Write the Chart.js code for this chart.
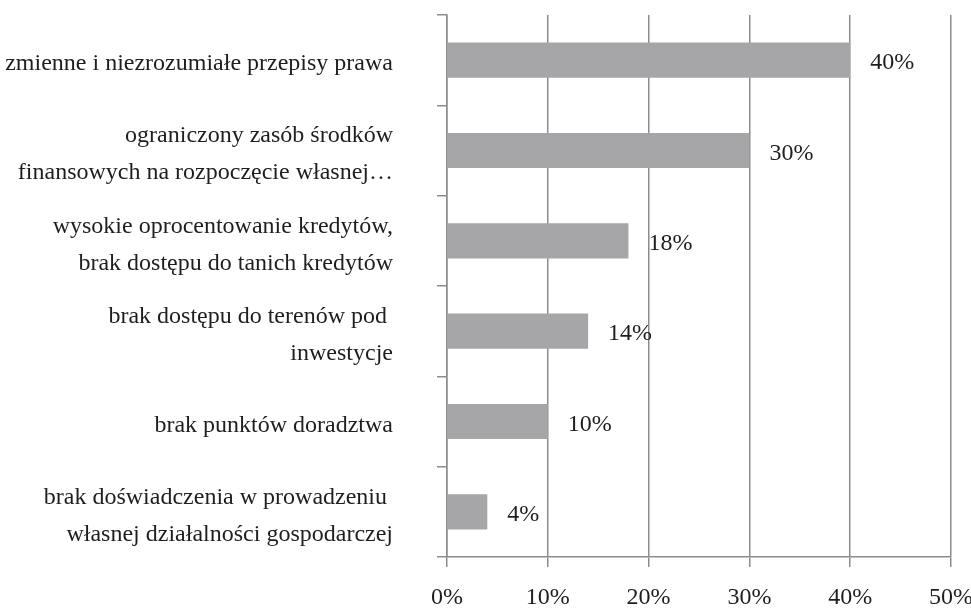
<!DOCTYPE html>
<html>
<head>
<meta charset="utf-8">
<script src="https://cdn.jsdelivr.net/npm/chart.js@4.4.0/dist/chart.umd.min.js"></script>
<style>
  html, body { margin: 0; padding: 0; background: #ffffff; }
  #wrap { width: 971px; height: 608px; position: relative; }
</style>
</head>
<body>
<div id="wrap"><canvas id="c" width="971" height="608"></canvas></div>
<script>
const categories = [
  "zmienne i niezrozumiałe przepisy prawa",
  ["ograniczony zasób środków", "finansowych na rozpoczęcie własnej…"],
  ["wysokie oprocentowanie kredytów,", "brak dostępu do tanich kredytów"],
  ["brak dostępu do terenów pod ", "inwestycje"],
  "brak punktów doradztwa",
  ["brak doświadczenia w prowadzeniu ", "własnej działalności gospodarczej"]
];
const values = [40, 30, 18, 14, 10, 4];
const xTicks = [0, 10, 20, 30, 40, 50];

const FONT = "'Liberation Serif', 'Times New Roman', serif";
const TEXT = "#1e1e1e";
const GRID = "#8c8c8c";
const FS = 24;

const valueLabels = {
  id: 'valueLabels',
  afterDatasetsDraw(chart) {
    const ctx = chart.ctx;
    const meta = chart.getDatasetMeta(0);
    ctx.save();
    ctx.font = FS + "px " + FONT;
    ctx.fillStyle = TEXT;
    ctx.textAlign = 'left';
    ctx.textBaseline = 'middle';
    meta.data.forEach((bar, i) => {
      ctx.fillText(values[i] + '%', bar.x + 20, bar.y + 3);
    });
    ctx.restore();
  }
};

function zeroPad(scale) {
  scale.paddingTop = 0; scale.paddingBottom = 0;
  scale.paddingLeft = 0; scale.paddingRight = 0;
}

new Chart(document.getElementById('c'), {
  type: 'bar',
  data: {
    labels: categories,
    datasets: [{
      data: values,
      backgroundColor: '#a6a6a8',
      borderWidth: 0,
      categoryPercentage: 1,
      barPercentage: 0.39
    }]
  },
  options: {
    indexAxis: 'y',
    responsive: false,
    animation: false,
    devicePixelRatio: 1,
    layout: { padding: { top: 15, right: 20, left: 0, bottom: 0 } },
    plugins: { legend: { display: false }, tooltip: { enabled: false } },
    scales: {
      x: {
        type: 'linear',
        min: 0,
        max: 50,
        afterBuildTicks(scale) { scale.ticks = xTicks.map(v => ({ value: v })); },
        afterFit(scale) { scale.height = 51; zeroPad(scale); },
        grid: { color: GRID, lineWidth: 1.5, tickLength: 10, drawTicks: true },
        border: { display: true, color: GRID, width: 1.5 },
        ticks: {
          padding: 16,
          color: TEXT,
          maxRotation: 0,
          font: { family: FONT, size: FS },
          callback: v => v + '%'
        }
      },
      y: {
        afterFit(scale) { scale.width = 447; zeroPad(scale); },
        grid: { color: GRID, lineWidth: 1.5, tickLength: 10, drawOnChartArea: false, offset: true },
        border: { display: true, color: GRID, width: 1.5 },
        ticks: {
          padding: 44,
          labelOffset: 4,
          color: TEXT,
          font: { family: FONT, size: FS, lineHeight: 1.54 }
        }
      }
    }
  },
  plugins: [valueLabels]
});
</script>
</body>
</html>
